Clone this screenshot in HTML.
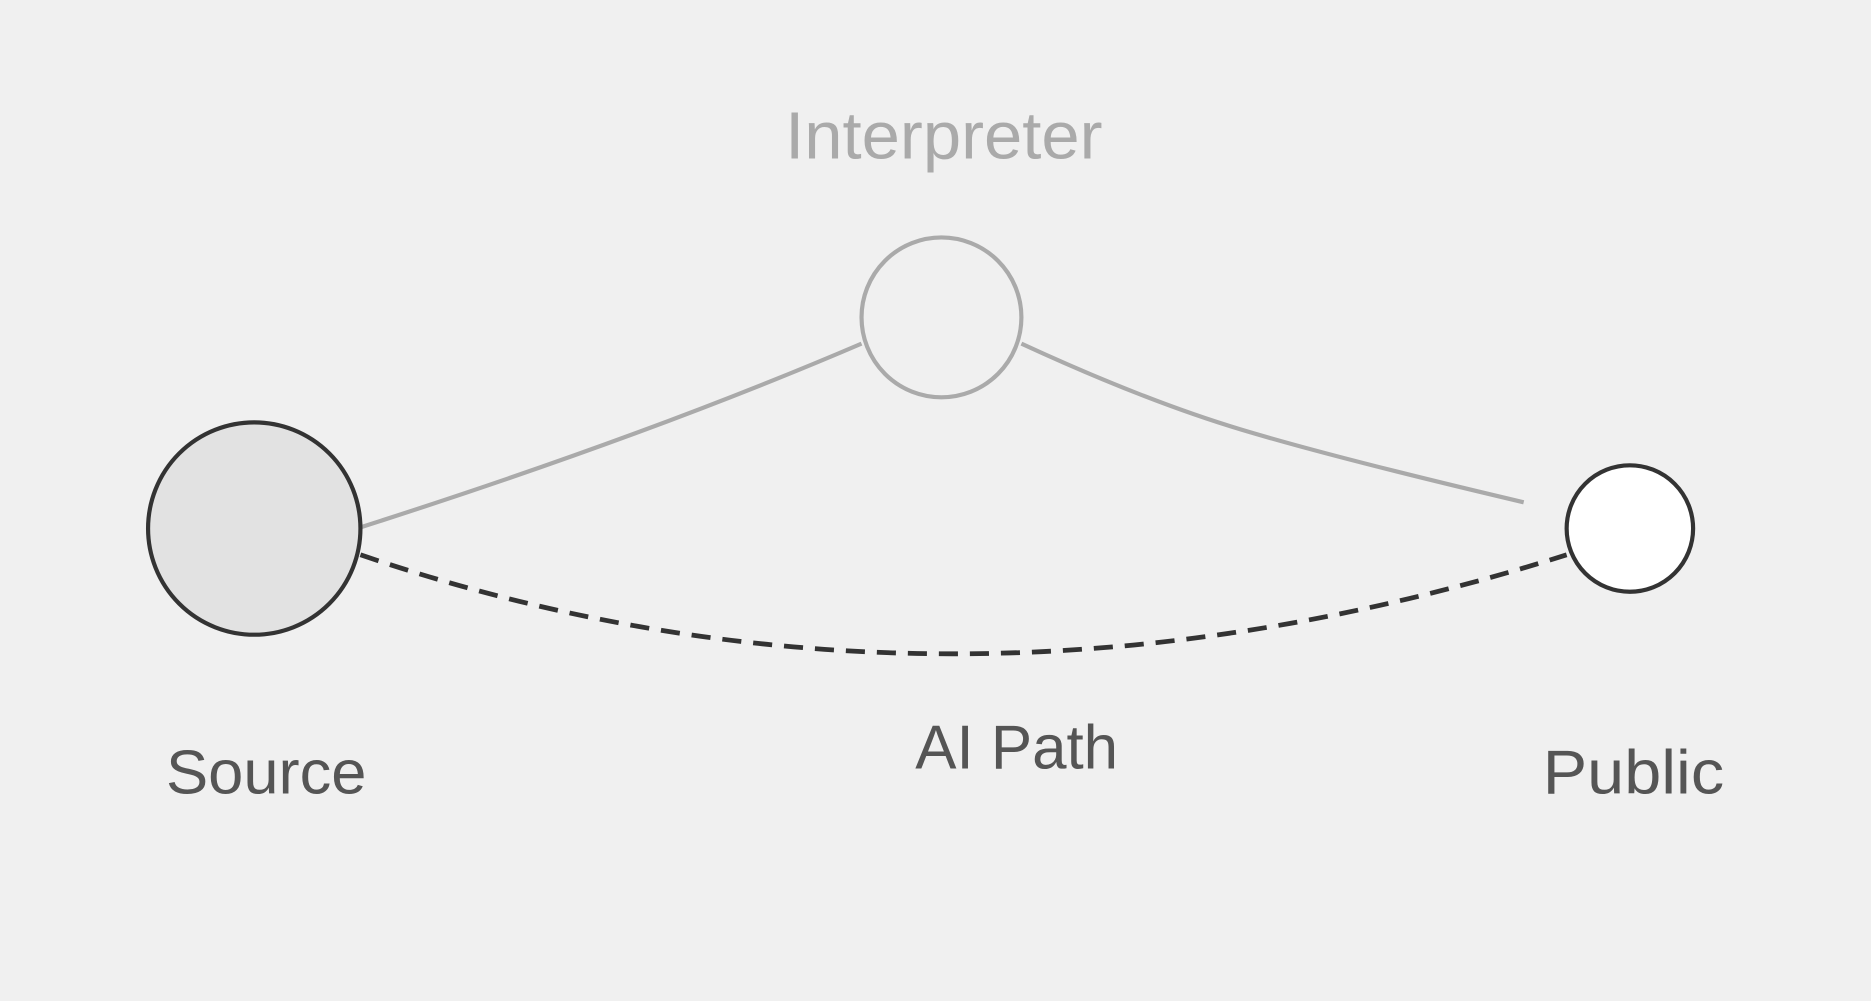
<!DOCTYPE html>
<html><head><meta charset="utf-8"><style>
html,body{margin:0;padding:0;background:#f0f0f0;}
svg{display:block;}
text{font-family:"Liberation Sans","DejaVu Sans",sans-serif;}
</style></head><body>
<svg width="1871" height="1001" viewBox="0 0 1568 839" xmlns="http://www.w3.org/2000/svg">
<rect width="1568" height="839" fill="#f0f0f0"/>
<path d="M302,442 Q540,366 722,288" fill="none" stroke="#aaaaaa" stroke-width="3.5"/>
<path d="M856,288 Q960,336 1040,360 T1277,421" fill="none" stroke="#aaaaaa" stroke-width="3.5"/>
<path d="M302,465 Q789,631 1313,465" fill="none" stroke="#333" stroke-width="4" stroke-dasharray="16,10"/>
<circle cx="213" cy="443" r="89" fill="#e2e2e2" stroke="#333" stroke-width="3.5"/>
<circle cx="789" cy="266" r="67" fill="#f0f0f0" stroke="#aaaaaa" stroke-width="3.5"/>
<circle cx="1366" cy="443" r="53" fill="#ffffff" stroke="#333" stroke-width="3.5"/>
<text x="791" y="133" font-size="56" fill="#aaaaaa" text-anchor="middle" textLength="266" lengthAdjust="spacingAndGlyphs">Interpreter</text>
<text x="223" y="665" font-size="52" fill="#555" text-anchor="middle" textLength="168" lengthAdjust="spacingAndGlyphs">Source</text>
<text x="852" y="644" font-size="52" fill="#555" text-anchor="middle" textLength="170" lengthAdjust="spacingAndGlyphs">AI Path</text>
<text x="1369" y="665" font-size="52" fill="#555" text-anchor="middle" textLength="152" lengthAdjust="spacingAndGlyphs">Public</text>
</svg>
</body></html>
